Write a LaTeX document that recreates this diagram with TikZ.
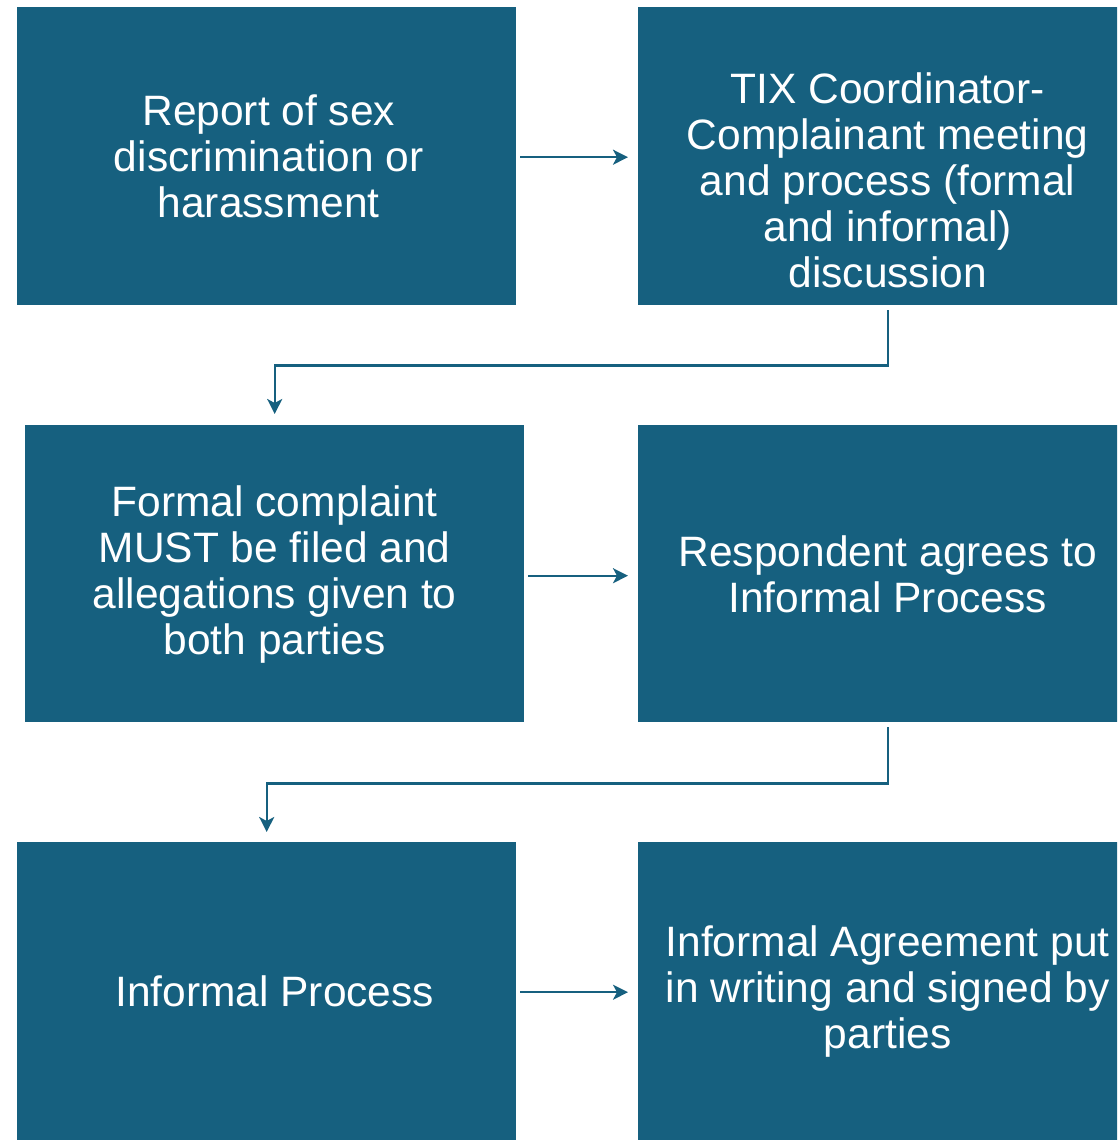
\documentclass[tikz,border=0pt]{standalone}
\usepackage{fontspec}
\setmainfont{Liberation Sans}
\usetikzlibrary{arrows.meta}
\definecolor{boxblue}{HTML}{16607F}
\begin{document}
\begin{tikzpicture}[x=1pt,y=-1pt,
  stepbox/.style={fill=boxblue,draw=none,minimum width=499pt,minimum height=298pt,anchor=north west,inner sep=0pt},
  steptext/.style={text=white,align=center,font=\fontsize{42.5}{46}\selectfont,inner sep=0pt},
  flow/.style={draw=boxblue,line width=2.4pt,-{Stealth[length=15pt,width=15pt,inset=4pt]}}]
\clip (0,0) rectangle (1117,1143);
\fill[white] (0,0) rectangle (1117,1143);
% boxes
\node[stepbox] (b1) at (17,7) {};
\node[stepbox] (b2) at (638,7) {};
\node[stepbox,minimum height=297pt] (b3) at (25,425) {};
\node[stepbox,minimum height=297pt] (b4) at (638,425) {};
\node[stepbox] (b5) at (17,842) {};
\node[stepbox] (b6) at (638,842) {};
% labels
\node[steptext] (t1) at ([xshift=2pt]b1.center) {Report of sex\\discrimination or\\harassment};
\node[steptext] (t2) at ([yshift=-24pt]b2.center) {TIX Coordinator-\\Complainant meeting\\and process (formal\\and informal)\\discussion};
\node[steptext] (t3) at ([yshift=-1pt]b3.center) {Formal complaint\\MUST be filed and\\allegations given to\\both parties};
\node[steptext] (t4) at ([yshift=-1pt]b4.center) {Respondent agrees to\\Informal Process};
\node[steptext] (t5) at ([xshift=8pt]b5.center) {Informal Process};
\node[steptext] (t6) at (b6.center) {Informal Agreement put\\in writing and signed by\\parties};
% connectors
\draw[flow] ([xshift=4pt,yshift=-1pt]b1.east) -- ([xshift=-10pt,yshift=-1pt]b2.west);
\draw[flow] ([yshift=-5pt]b2.south) -- ++(0,55) -| ([yshift=11pt]b3.north);
\draw[flow] ([xshift=4pt,yshift=-2pt]b3.east) -- ([xshift=-10pt,yshift=-2pt]b4.west);
\draw[flow] ([yshift=-5pt]b4.south) -- ++(0,56) -| ([yshift=10pt]b5.north);
\draw[flow] ([xshift=4pt,yshift=-1pt]b5.east) -- ([xshift=-10pt,yshift=-1pt]b6.west);
\end{tikzpicture}
\end{document}
